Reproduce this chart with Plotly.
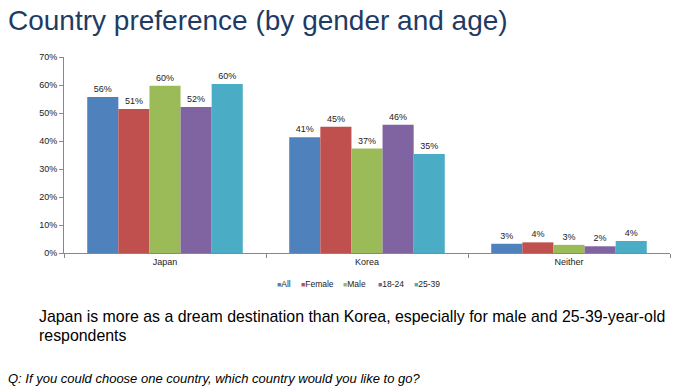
import plotly.graph_objects as go

categories = ["Japan", "Korea", "Neither"]
series_names = ["All", "Female", "Male", "18-24", "25-39"]
values = {
    "All": [55.7, 41.3, 3.3],
    "Female": [51.4, 45.1, 3.8],
    "Male": [59.7, 37.3, 2.9],
    "18-24": [52.1, 45.8, 2.4],
    "25-39": [60.4, 35.4, 4.3],
}
labels = {
    "All": ["56%", "41%", "3%"],
    "Female": ["51%", "45%", "4%"],
    "Male": ["60%", "37%", "3%"],
    "18-24": ["52%", "46%", "2%"],
    "25-39": ["60%", "35%", "4%"],
}
colors = ["#4F81BD", "#C0504D", "#9BBB59", "#8064A2", "#4BACC6"]
y_ticks = [0, 10, 20, 30, 40, 50, 60, 70]

FONT = "Liberation Sans, Arial, sans-serif"
L, R, T, B = 64, 14, 57, 136
W, H = 684, 389
PW, PH = W - L - R, H - T - B


def px(x):
    return (x - L) / PW


def py(y):
    return (H - B - y) / PH


fig = go.Figure()
for name, col in zip(series_names, colors):
    fig.add_trace(go.Bar(
        x=categories, y=values[name], name=name, marker_color=col,
        marker_line_width=0,
        text=labels[name], textposition="outside", cliponaxis=False,
        textfont=dict(size=9, color="#222", family=FONT),
    ))

fig.update_layout(
    width=W, height=H,
    margin=dict(l=L, r=R, t=T, b=B),
    paper_bgcolor="white", plot_bgcolor="white",
    barmode="group", bargap=0.23, bargroupgap=0,
    font=dict(family=FONT, size=9, color="#222"),
    showlegend=False,
)
fig.update_xaxes(
    showline=True, linecolor="#888", linewidth=1,
    ticks="outside", tickson="boundaries", ticklen=4, tickcolor="#888",
    tickfont=dict(size=9), showgrid=False,
)
fig.update_yaxes(
    range=[0, 70], tickvals=y_ticks, ticktext=[f"{v}%" for v in y_ticks],
    showline=True, linecolor="#888", linewidth=1,
    ticks="outside", ticklen=4, tickcolor="#888",
    showgrid=False, zeroline=False, tickfont=dict(size=9),
)

# title
fig.add_annotation(
    text="Country preference (by gender and age)", xref="paper", yref="paper",
    x=px(6), y=py(20), xanchor="left", yanchor="middle", showarrow=False,
    font=dict(size=28, color="#1F3B63", family=FONT),
)
# legend (compact, as in the reference)
legend_x = [275, 299, 341, 376, 412]
for name, col, lx in zip(series_names, colors, legend_x):
    fig.add_annotation(
        text=f"<span style='color:{col};font-size:7px'>■</span>{name}",
        xref="paper", yref="paper", x=px(lx), y=py(284),
        xanchor="left", yanchor="middle", showarrow=False,
        font=dict(size=8.5, color="#222", family=FONT),
    )
# commentary
fig.add_annotation(
    text="Japan is more as a dream destination than Korea, especially for male and 25-39-year-old",
    xref="paper", yref="paper", x=px(37), y=py(316),
    xanchor="left", yanchor="middle", align="left", showarrow=False,
    font=dict(size=15.9, color="#000", family=FONT),
)
fig.add_annotation(
    text="respondents",
    xref="paper", yref="paper", x=px(37), y=py(335),
    xanchor="left", yanchor="middle", align="left", showarrow=False,
    font=dict(size=15.9, color="#000", family=FONT),
)
fig.add_annotation(
    text="<i>Q: If you could choose one country, which country would you like to go?</i>",
    xref="paper", yref="paper", x=px(6), y=py(378),
    xanchor="left", yanchor="middle", align="left", showarrow=False,
    font=dict(size=13, color="#000", family=FONT),
)

fig.write_html("out.html", config={"displayModeBar": False},
               post_script="document.body.style.margin='0';document.body.style.overflow='hidden';")
